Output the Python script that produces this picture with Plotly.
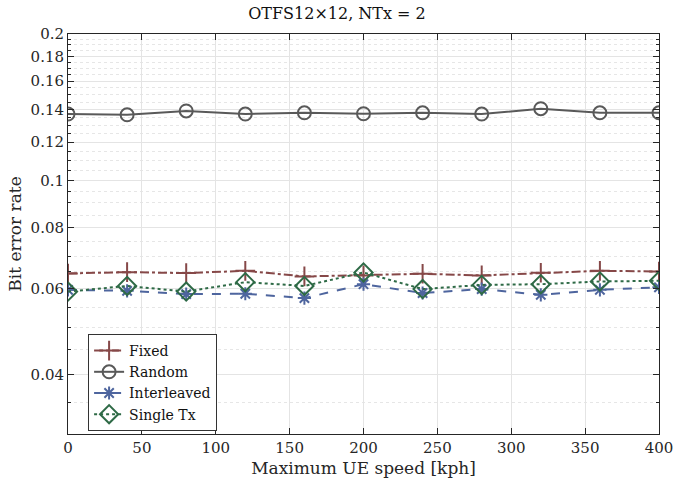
import plotly.graph_objects as go
import numpy as np

speed = [0, 40, 80, 120, 160, 200, 240, 280, 320, 360, 400]
fixed = [0.0645, 0.0649, 0.0646, 0.0653, 0.0636, 0.0639, 0.0644, 0.0639, 0.0647, 0.0653, 0.0651]
random_ = [0.1370, 0.1365, 0.1390, 0.1370, 0.1378, 0.1372, 0.1378, 0.1370, 0.1405, 0.1378, 0.1378]
interleaved = [0.0597, 0.0594, 0.0585, 0.0586, 0.0574, 0.0613, 0.0588, 0.0599, 0.0583, 0.0597, 0.0604]
single_tx = [0.0592, 0.0608, 0.0592, 0.0619, 0.0608, 0.0648, 0.0599, 0.0611, 0.0613, 0.0621, 0.0623]

y_ticks = [0.04, 0.06, 0.08, 0.1, 0.12, 0.14, 0.16, 0.18, 0.2]
y_tick_text = ["0.04", "0.06", "0.08", "0.1", "0.12", "0.14", "0.16", "0.18", "0.2"]
x_ticks = [0, 50, 100, 150, 200, 250, 300, 350, 400]

minor_vals = [round(v, 3) for v in np.arange(0.03, 0.2001, 0.005) if round(v, 3) not in y_ticks]

FONT = "DejaVu Serif"

fig = go.Figure()
fig.add_trace(go.Scatter(
    x=speed, y=fixed, name="Fixed", mode="lines+markers",
    line=dict(color="#864848", width=2, dash="dashdot"),
    marker=dict(symbol="cross-thin-open", size=14, color="#864848", line=dict(width=2, color="#864848"))))
fig.add_trace(go.Scatter(
    x=speed, y=random_, name="Random", mode="lines+markers",
    line=dict(color="#595959", width=2, dash="solid"),
    marker=dict(symbol="circle-open", size=13, color="#595959", line=dict(width=2, color="#595959"))))
fig.add_trace(go.Scatter(
    x=speed, y=interleaved, name="Interleaved", mode="lines+markers",
    line=dict(color="#4e659e", width=2, dash="dash"),
    marker=dict(symbol="asterisk-open", size=11, color="#4e659e", line=dict(width=2, color="#4e659e"))))
fig.add_trace(go.Scatter(
    x=speed, y=single_tx, name="Single Tx", mode="lines+markers",
    line=dict(color="#2e6a46", width=2, dash="dot"),
    marker=dict(symbol="diamond-open", size=14, color="#2e6a46", line=dict(width=2, color="#2e6a46"))))

fig.update_layout(
    width=674, height=487,
    margin=dict(l=68, r=15, t=34, b=53, autoexpand=False),
    paper_bgcolor="white", plot_bgcolor="white",
    font=dict(family=FONT, size=15, color="#262626"),
    title=dict(text="OTFS12×12, NTx = 2", x=0.5, xanchor="center", y=0.985, yanchor="top",
               font=dict(family=FONT, size=16, color="#111111")),
    showlegend=True,
    legend=dict(x=0.034, y=0.25, xanchor="left", yanchor="top",
                bgcolor="white", bordercolor="#333333", borderwidth=1,
                font=dict(family=FONT, size=14, color="#111111"),
                tracegroupgap=0, itemwidth=30),
    xaxis=dict(
        range=[0, 400], tickvals=x_ticks, ticks="inside", ticklen=6, tickcolor="#262626",
        showline=True, linecolor="#262626", linewidth=1, mirror="ticks", automargin=False,
        showgrid=True, gridcolor="#e4e4e4", gridwidth=1, zeroline=False,
        title=dict(text="Maximum UE speed [kph]", font=dict(family=FONT, size=17, color="#262626"), standoff=6),
        tickfont=dict(family=FONT, size=15, color="#262626"),
    ),
    yaxis=dict(
        type="log", range=[np.log10(0.0302), np.log10(0.2)],
        tickvals=y_ticks, ticktext=y_tick_text, ticks="inside", ticklen=6, tickcolor="#262626",
        showline=True, linecolor="#262626", linewidth=1, mirror="ticks", automargin=False,
        showgrid=True, gridcolor="#e4e4e4", gridwidth=1, zeroline=False,
        minor=dict(tickvals=minor_vals, ticks="inside", ticklen=3, tickcolor="#262626",
                   showgrid=True, gridcolor="#e6e6e6", griddash="dot", gridwidth=1),
        title=dict(text="Bit error rate", font=dict(family=FONT, size=17, color="#262626"), standoff=4),
        tickfont=dict(family=FONT, size=15, color="#262626"),
    ),
)

fig.write_html("out.html")
